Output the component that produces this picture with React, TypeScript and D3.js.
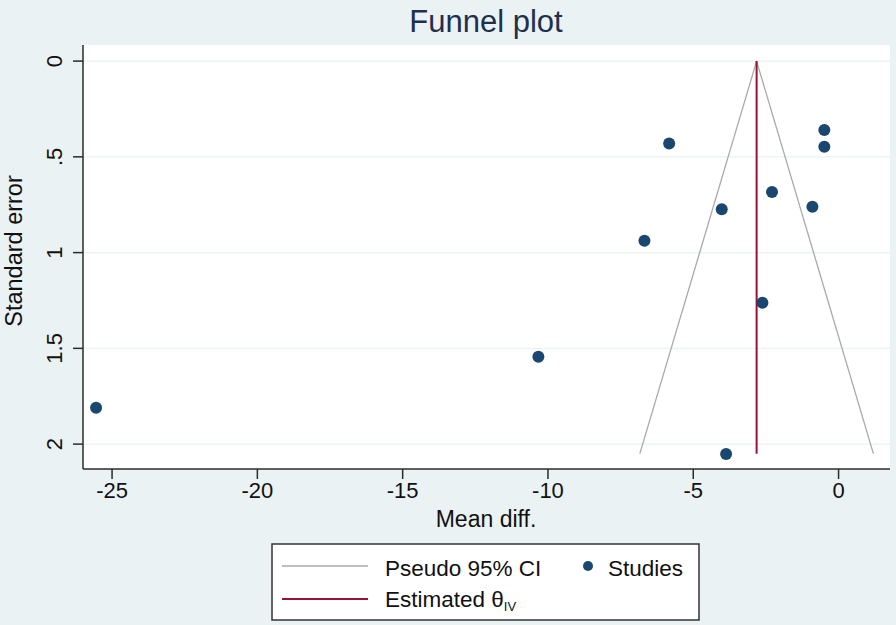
import React from "react";
import * as d3 from "d3";

const studyEffect = [-25.55, -5.83, -0.49, -0.49, -2.29, -4.02, -0.9, -6.68, -2.62, -10.33, -3.87];
const studySE = [1.81, 0.43, 0.36, 0.447, 0.684, 0.774, 0.761, 0.938, 1.262, 1.544, 2.052];
const thetaIV = -2.82;
const funnelMaxSE = 2.05;
const xTicks = [-25, -20, -15, -10, -5, 0];
const yTicks = [0, 0.5, 1, 1.5, 2];
const yTickLabels = ["0", ".5", "1", "1.5", "2"];

const W = 896;
const H = 625;
const FONT = "'Liberation Sans', Arial, Helvetica, sans-serif";

export default function App() {
  const left = 83, right = 890, top = 45, bottom = 469;
  const x = d3.scaleLinear().domain([-26, 1.77]).range([left, right]);
  const y = d3.scaleLinear().domain([-0.084, 2.13]).range([top, bottom]);

  const lineGen = d3.line<[number, number]>().x(d => x(d[0])).y(d => y(d[1]));
  const leftCI: [number, number][] = [[thetaIV, 0], [thetaIV - 1.96 * funnelMaxSE, funnelMaxSE]];
  const rightCI: [number, number][] = [[thetaIV, 0], [thetaIV + 1.96 * funnelMaxSE, funnelMaxSE]];

  const bg = "#eaf2f3";
  const axisColor = "#2b2b2b";
  const navy = "#1a476f";
  const red = "#9a1238";
  const grey = "#a9a9a9";

  return (
    <svg width={W} height={H} style={{ position: "absolute", left: 0, top: 0, display: "block" }} fontFamily={FONT}>
      <rect x={0} y={0} width={W} height={H} fill={bg} />
      <text x={486} y={32} textAnchor="middle" fontSize={31} fill="#1f2f4d">Funnel plot</text>

      <rect x={left} y={top} width={right - left} height={bottom - top} fill="#ffffff" />
      {yTicks.map(t => (
        <line key={"g" + t} x1={left} x2={right} y1={y(t)} y2={y(t)} stroke={bg} strokeWidth={1.2} />
      ))}

      <path d={lineGen(leftCI) || ""} stroke={grey} strokeWidth={1.3} fill="none" />
      <path d={lineGen(rightCI) || ""} stroke={grey} strokeWidth={1.3} fill="none" />
      <line x1={x(thetaIV)} x2={x(thetaIV)} y1={y(0)} y2={y(funnelMaxSE)} stroke={red} strokeWidth={2} />

      {studyEffect.map((v, i) => (
        <circle key={"p" + i} cx={x(v)} cy={y(studySE[i])} r={6} fill={navy} />
      ))}

      <line x1={left} x2={left} y1={top} y2={bottom} stroke={axisColor} strokeWidth={1.5} />
      <line x1={left} x2={right} y1={bottom} y2={bottom} stroke={axisColor} strokeWidth={1.5} />

      {yTicks.map((t, i) => (
        <g key={"yt" + t}>
          <line x1={left - 10} x2={left} y1={y(t)} y2={y(t)} stroke={axisColor} strokeWidth={1.5} />
          <text transform={`translate(62,${y(t)}) rotate(-90)`} textAnchor="middle" fontSize={22} fill="#111">
            {yTickLabels[i]}
          </text>
        </g>
      ))}
      {xTicks.map(t => (
        <g key={"xt" + t}>
          <line x1={x(t)} x2={x(t)} y1={bottom} y2={bottom + 10} stroke={axisColor} strokeWidth={1.5} />
          <text x={x(t)} y={498} textAnchor="middle" fontSize={22} fill="#111">{t}</text>
        </g>
      ))}

      <text x={486} y={527} textAnchor="middle" fontSize={23} fill="#111">Mean diff.</text>
      <text transform={`translate(22,251) rotate(-90)`} textAnchor="middle" fontSize={23.5} fill="#111">Standard error</text>

      <rect x={272} y={544} width={427} height={76} fill="#ffffff" stroke="#333" strokeWidth={1.5} />
      <line x1={282} x2={368} y1={566} y2={566} stroke={grey} strokeWidth={1.3} />
      <text x={385} y={576} fontSize={22.5} fill="#111">Pseudo 95% CI</text>
      <circle cx={588} cy={566} r={5} fill={navy} />
      <text x={608} y={576} fontSize={22.5} fill="#111">Studies</text>
      <line x1={282} x2={368} y1={599} y2={599} stroke={red} strokeWidth={2} />
      <text x={385} y={607} fontSize={22.5} fill="#111">
        Estimated θ<tspan fontSize={13} dy={4}>IV</tspan>
      </text>
    </svg>
  );
}
